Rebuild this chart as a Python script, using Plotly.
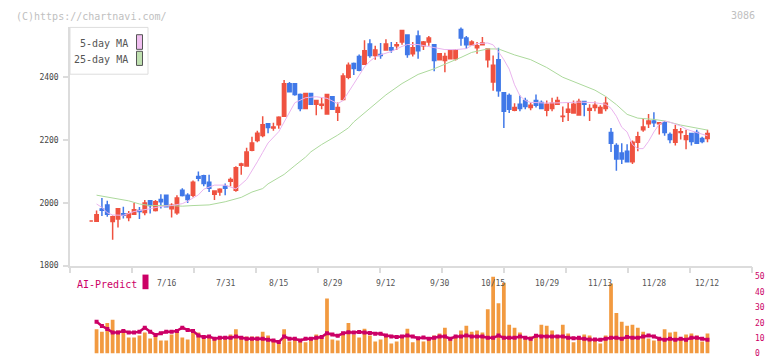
import plotly.graph_objects as go

# ---------------- data ----------------
opens = [1942, 1941, 1980, 1993, 1940, 1948, 1965, 1953, 1963, 1975,
         1969, 2006, 1975, 2010, 2024, 1981, 1968, 2040, 2024, 2024,
         2083, 2086, 2065, 2027, 2034, 2052, 2068, 2040, 2119, 2117,
         2167, 2198, 2214, 2251, 2238, 2248, 2275, 2378, 2378, 2344,
         2300, 2347, 2313, 2310, 2282, 2337, 2288, 2328, 2399, 2443,
         2465, 2440, 2505, 2468, 2471, 2486, 2493, 2499, 2511, 2533,
         2474, 2530, 2499, 2511, 2502, 2455, 2452, 2458, 2458, 2551,
         2524, 2502, 2493, 2502, 2455, 2384, 2455, 2350, 2341, 2294,
         2313, 2325, 2303, 2325, 2319, 2294, 2300, 2313, 2274, 2288,
         2285, 2279, 2322, 2294, 2303, 2285, 2300, 2223, 2182, 2158,
         2164, 2130, 2192, 2232, 2251, 2260, 2251, 2254, 2217, 2192,
         2223, 2201, 2220, 2223, 2204, 2204]
highs = [1942, 1975, 2015, 2006, 1959, 1981, 1987, 1974, 1999, 1986,
         2009, 2006, 2009, 2027, 2024, 1998, 2024, 2046, 2030, 2071,
         2099, 2089, 2089, 2037, 2046, 2061, 2080, 2116, 2127, 2175,
         2210, 2229, 2275, 2251, 2254, 2275, 2390, 2384, 2378, 2347,
         2347, 2347, 2325, 2334, 2344, 2337, 2319, 2412, 2446, 2446,
         2471, 2517, 2520, 2499, 2508, 2520, 2511, 2511, 2548, 2533,
         2511, 2548, 2514, 2530, 2502, 2474, 2477, 2486, 2486, 2557,
         2530, 2517, 2511, 2527, 2489, 2468, 2493, 2350, 2347, 2316,
         2341, 2334, 2319, 2344, 2325, 2325, 2334, 2337, 2306, 2319,
         2325, 2331, 2322, 2313, 2322, 2310, 2337, 2238, 2189, 2189,
         2186, 2198, 2226, 2266, 2282, 2288, 2257, 2260, 2223, 2248,
         2238, 2232, 2220, 2232, 2210, 2232]
lows = [1942, 1941, 1958, 1955, 1882, 1921, 1950, 1941, 1963, 1948,
        1960, 1966, 1972, 1982, 1985, 1953, 1962, 2020, 1999, 2017,
        2068, 2052, 2034, 2009, 2022, 2024, 2052, 2035, 2089, 2114,
        2164, 2192, 2208, 2221, 2229, 2235, 2275, 2353, 2340, 2291,
        2300, 2313, 2278, 2297, 2282, 2297, 2260, 2325, 2393, 2406,
        2418, 2440, 2461, 2455, 2458, 2486, 2477, 2486, 2502, 2461,
        2465, 2458, 2486, 2499, 2418, 2452, 2415, 2458, 2452, 2499,
        2489, 2502, 2474, 2502, 2430, 2356, 2337, 2238, 2285, 2291,
        2291, 2297, 2294, 2303, 2297, 2275, 2291, 2313, 2257, 2260,
        2285, 2279, 2275, 2260, 2291, 2285, 2291, 2161, 2102, 2123,
        2130, 2123, 2164, 2226, 2238, 2241, 2217, 2213, 2189, 2182,
        2201, 2170, 2182, 2189, 2189, 2192]
closes = [1942, 1962, 1976, 1963, 1955, 1981, 1960, 1965, 1978, 1972,
          1999, 1991, 2003, 2003, 1987, 1992, 2015, 2023, 2010, 2065,
          2078, 2061, 2046, 2037, 2043, 2046, 2074, 2111, 2123, 2161,
          2190, 2221, 2248, 2239, 2241, 2272, 2378, 2353, 2344, 2300,
          2347, 2313, 2325, 2313, 2344, 2297, 2303, 2403, 2437, 2427,
          2421, 2483, 2468, 2486, 2468, 2505, 2486, 2502, 2548, 2471,
          2493, 2483, 2511, 2524, 2452, 2474, 2465, 2483, 2486, 2524,
          2502, 2511, 2499, 2508, 2489, 2437, 2356, 2291, 2297, 2303,
          2300, 2306, 2310, 2310, 2300, 2313, 2316, 2325, 2275, 2297,
          2313, 2322, 2313, 2300, 2310, 2303, 2316, 2189, 2139, 2139,
          2130, 2192, 2210, 2241, 2260, 2254, 2254, 2223, 2201, 2232,
          2226, 2213, 2195, 2189, 2195, 2220]

ma5_idx = [1, 2, 3, 4, 6, 8, 11, 13, 15, 17, 18, 20, 21, 23, 25, 26, 27, 29,
           30, 31, 32, 33, 35, 37, 38, 40, 42, 44, 45, 46, 47, 48, 49, 50,
           51, 52, 53, 54, 56, 58, 59, 61, 64, 66, 68, 70, 71, 72, 74, 75,
           76, 77, 78, 79, 80, 81, 82, 85, 88, 91, 94, 96, 97, 98, 99, 100,
           101, 102, 103, 104, 105, 106, 107, 108, 110, 111, 113, 115]
ma5_val = [1996, 1985, 1968, 1961, 1960, 1972, 1981, 1988, 1991, 1997, 2005,
           2025, 2043, 2056, 2056, 2049, 2044, 2074, 2100, 2130, 2160, 2190,
           2226, 2288, 2318, 2334, 2337, 2332, 2323, 2315, 2325, 2350, 2378,
           2405, 2432, 2450, 2463, 2470, 2481, 2497, 2503, 2503, 2492, 2487,
           2487, 2490, 2500, 2506, 2508, 2502, 2480, 2455, 2425, 2375, 2340,
           2325, 2319, 2317, 2318, 2320, 2318, 2313, 2300, 2275, 2240, 2225,
           2185, 2172, 2172, 2195, 2225, 2250, 2260, 2256, 2244, 2234, 2223,
           2213]

ma25_idx = [1, 3, 7, 9, 11, 15, 17, 19, 22, 25, 28, 30, 32, 33, 36, 38, 40,
            41, 43, 46, 48, 49, 52, 55, 58, 61, 64, 66, 69, 71, 74, 76, 79,
            82, 85, 88, 91, 94, 96, 98, 100, 102, 105, 107, 110, 112, 115]
ma25_val = [2024, 2018, 2006, 1996, 1991, 1991, 1989, 1991, 1993, 2003, 2017,
            2034, 2045, 2060, 2090, 2118, 2145, 2162, 2185, 2215, 2238, 2257,
            2301, 2343, 2379, 2408, 2426, 2440, 2462, 2478, 2489, 2489, 2470,
            2455, 2430, 2399, 2379, 2358, 2338, 2312, 2281, 2269, 2265, 2260,
            2247, 2240, 2231]

volume = [None, 15.7, 14.2, 19.9, 22.0, 14.9, 14.9, 10.4, 10.4, 11.7,
          13.6, 9.8, 11.7, 8.5, 8.5, 12.3, 13.6, 10.4, 9.2, 13.6,
          13.6, 9.8, 11.1, 9.8, 9.8, 11.1, 12.3, 15.7, 11.1, 11.1,
          11.1, 11.1, 14.2, 11.7, 8.5, 7.3, 15.7, 7.9, 9.2, 7.9,
          7.3, 9.2, 12.3, 11.7, 35.8, 9.2, 8.5, 13.6, 19.9, 12.3,
          10.4, 16.1, 11.7, 7.9, 9.2, 11.1, 6.6, 7.9, 11.4, 16.1,
          7.3, 9.8, 7.9, 9.8, 11.7, 13.0, 16.8, 10.4, 11.1, 14.9,
          18.0, 14.2, 14.9, 13.6, 28.8, 50.0, 32.6, 46.0, 18.7, 16.8,
          13.6, 11.1, 11.1, 12.3, 18.7, 18.0, 14.9, 11.1, 18.7, 13.0,
          7.3, 10.4, 12.3, 11.7, 8.5, 6.6, 11.7, 45.4, 26.3, 20.6,
          18.0, 18.7, 16.8, 14.2, 9.8, 8.5, 9.2, 15.7, 13.6, 14.2,
          9.8, 12.3, 13.0, 11.7, 7.9, 13.0]

ai_predict = [None, 20.6, 17.9, 16.0, 13.6, 13.6, 14.7, 13.6, 13.6, 14.2,
              16.8, 14.2, 12.1, 13.2, 14.2, 14.2, 14.7, 16.8, 15.3, 14.7,
              11.7, 10.7, 11.1, 9.6, 10.2, 10.2, 10.2, 11.1, 10.2, 9.6,
              9.6, 9.6, 9.6, 9.0, 8.5, 7.5, 11.1, 9.6, 9.6, 8.5,
              9.6, 9.6, 10.2, 10.7, 13.2, 12.3, 11.5, 13.2, 13.8, 13.6,
              14.0, 13.6, 13.4, 12.8, 12.8, 11.7, 11.1, 10.7, 11.1, 11.7,
              11.1, 10.0, 10.4, 9.6, 10.2, 11.1, 11.1, 9.6, 11.1, 11.1,
              11.7, 11.1, 11.1, 11.1, 10.2, 10.2, 11.7, 10.2, 10.2, 10.2,
              11.1, 10.2, 9.6, 11.5, 11.1, 11.1, 11.1, 11.1, 11.1, 10.2,
              10.0, 10.2, 9.6, 9.2, 9.2, 9.0, 9.6, 10.2, 10.2, 9.6,
              10.7, 10.2, 10.2, 11.1, 11.7, 11.1, 9.6, 9.0, 9.6, 9.0,
              9.6, 9.0, 10.2, 10.2, 9.6, 9.0]

date_labels = ["7/16", "7/31", "8/15", "8/29", "9/12", "9/30",
               "10/15", "10/29", "11/13", "11/28", "12/12"]
date_label_idx = [14, 25, 35, 45, 55, 65, 75, 85, 95, 105, 115]

price_ticks = [1800, 2000, 2200, 2400]
sub_ticks = [0, 10, 20, 30, 40, 50]

# ---------------- layout geometry ----------------
W, H = 772, 361
FONT = "DejaVu Sans Mono"
RED = "#ef5240"
BLUE = "#4078e8"
MAG = "#cc0066"
ORANGE = "#f29a40"

n = len(closes)
idx = list(range(n))
x_left_px, x_right_px = 70, 752
x0_px, step_px = 91.2, 5.359
xr = [(x_left_px - x0_px) / step_px, (x_right_px - x0_px) / step_px]
tick_pos = [xr[0] + k * (xr[1] - xr[0]) / 11 for k in range(12)]
tick_pos[0] += 0.02
tick_pos[-1] -= 0.02

def py(p):
    return 1 - p / H

fig = go.Figure()

fig.add_trace(go.Candlestick(
    x=idx, open=opens, high=highs, low=lows, close=closes,
    increasing=dict(line=dict(color=RED, width=1.5), fillcolor=RED),
    decreasing=dict(line=dict(color=BLUE, width=1.5), fillcolor=BLUE),
    whiskerwidth=0, showlegend=False, hoverinfo="skip",
    xaxis="x", yaxis="y"))

fig.add_trace(go.Scatter(x=ma25_idx, y=ma25_val, mode="lines",
                         line=dict(color="#acd99c", width=1),
                         showlegend=False, hoverinfo="skip",
                         xaxis="x", yaxis="y"))
fig.add_trace(go.Scatter(x=ma5_idx, y=ma5_val, mode="lines",
                         line=dict(color="#eab4ee", width=1),
                         showlegend=False, hoverinfo="skip",
                         xaxis="x", yaxis="y"))

fig.add_trace(go.Bar(x=idx, y=volume, marker=dict(color=ORANGE, line=dict(width=0)),
                     showlegend=False, hoverinfo="skip",
                     xaxis="x2", yaxis="y2"))
fig.add_trace(go.Scatter(x=idx, y=ai_predict, mode="lines+markers",
                         line=dict(color=MAG, width=2.5),
                         marker=dict(symbol="square", size=4, color=MAG),
                         showlegend=False, hoverinfo="skip",
                         xaxis="x2", yaxis="y2"))

dom_x = [x_left_px / W, x_right_px / W]
grey = "#dcdcdc"

annotations = []
for lab, i in zip(date_labels, date_label_idx):
    annotations.append(dict(x=i, y=py(287), xref="x", yref="paper",
                            text=lab, showarrow=False, xanchor="center",
                            yanchor="middle",
                            font=dict(family=FONT, size=8, color="#555555")))

annotations += [
    dict(x=14 / W, y=py(12.5), xref="paper", yref="paper",
         text="(C)https://chartnavi.com/", showarrow=False,
         xanchor="left", yanchor="middle",
         font=dict(family=FONT, size=10, color="#c0c0c0")),
    dict(x=757 / W, y=py(12), xref="paper", yref="paper", text="3086",
         showarrow=False, xanchor="right", yanchor="middle",
         font=dict(family=FONT, size=10, color="#c0c0c0")),
    dict(x=130 / W, y=py(41), xref="paper", yref="paper", text="5-day MA",
         showarrow=False, xanchor="right", yanchor="middle",
         font=dict(family=FONT, size=10, color="#555555")),
    dict(x=130 / W, y=py(57), xref="paper", yref="paper", text="25-day MA",
         showarrow=False, xanchor="right", yanchor="middle",
         font=dict(family=FONT, size=10, color="#555555")),
    dict(x=75 / W, y=py(287.5), xref="paper", yref="paper", text="AI-Predict",
         showarrow=False, xanchor="left", yanchor="middle",
         font=dict(family=FONT, size=10, color=MAG)),
]

shapes = [
    dict(type="rect", xref="paper", yref="paper", x0=70 / W, x1=148 / W,
         y0=py(72), y1=py(24), line=dict(color="#dddddd", width=1),
         fillcolor="white", layer="above"),
    dict(type="rect", xref="paper", yref="paper", x0=136.5 / W, x1=142.5 / W,
         y0=py(46.5), y1=py(31.5), line=dict(color="#555555", width=1),
         fillcolor="#f0bff0", layer="above"),
    dict(type="rect", xref="paper", yref="paper", x0=136.5 / W, x1=142.5 / W,
         y0=py(63), y1=py(48.5), line=dict(color="#555555", width=1),
         fillcolor="#bfe0b0", layer="above"),
    dict(type="rect", xref="paper", yref="paper", x0=142.5 / W, x1=148.5 / W,
         y0=py(292.5), y1=py(277.5), line=dict(width=0),
         fillcolor=MAG, layer="above"),
]

price_top = 2560
main_bottom_px = 268.3
px_per_unit = 64.5 / 200
main_top_px = main_bottom_px - (price_top - 1800) * px_per_unit

fig.update_layout(
    width=W, height=H, margin=dict(l=0, r=0, t=0, b=0),
    paper_bgcolor="white", plot_bgcolor="white",
    showlegend=False, boxgap=0.1, bargap=0.3,
    xaxis=dict(domain=dom_x, range=xr, anchor="y", showgrid=False,
               zeroline=False, showline=True, linecolor=grey, linewidth=1.5,
               tickmode="array", tickvals=tick_pos, ticks="outside",
               ticklen=6, tickwidth=1.5, tickcolor=grey,
               showticklabels=False, rangeslider=dict(visible=False),
               fixedrange=True),
    yaxis=dict(domain=[py(main_bottom_px), py(main_top_px)],
               range=[1800, price_top], anchor="x", showgrid=False,
               zeroline=False, showline=True, linecolor=grey, linewidth=1.5,
               tickmode="array", tickvals=price_ticks, ticks="outside",
               ticklen=5, tickwidth=1.5, tickcolor=grey,
               ticklabelstandoff=3, fixedrange=True,
               tickfont=dict(family=FONT, size=8, color="#444444")),
    xaxis2=dict(domain=dom_x, range=xr, anchor="y2", visible=False,
                fixedrange=True),
    yaxis2=dict(domain=[py(358.5), py(279.5)], range=[0, 50], anchor="x2",
                side="right", showgrid=False, zeroline=False, showline=False,
                tickmode="array", tickvals=sub_ticks, ticks="",
                ticklabelstandoff=2, fixedrange=True,
                tickfont=dict(family=FONT, size=8, color=MAG)),
    annotations=annotations, shapes=shapes,
)

fig.write_html(
    "out.html",
    config={"displayModeBar": False},
    post_script="document.body.style.margin='0';document.body.style.padding='0';",
)
